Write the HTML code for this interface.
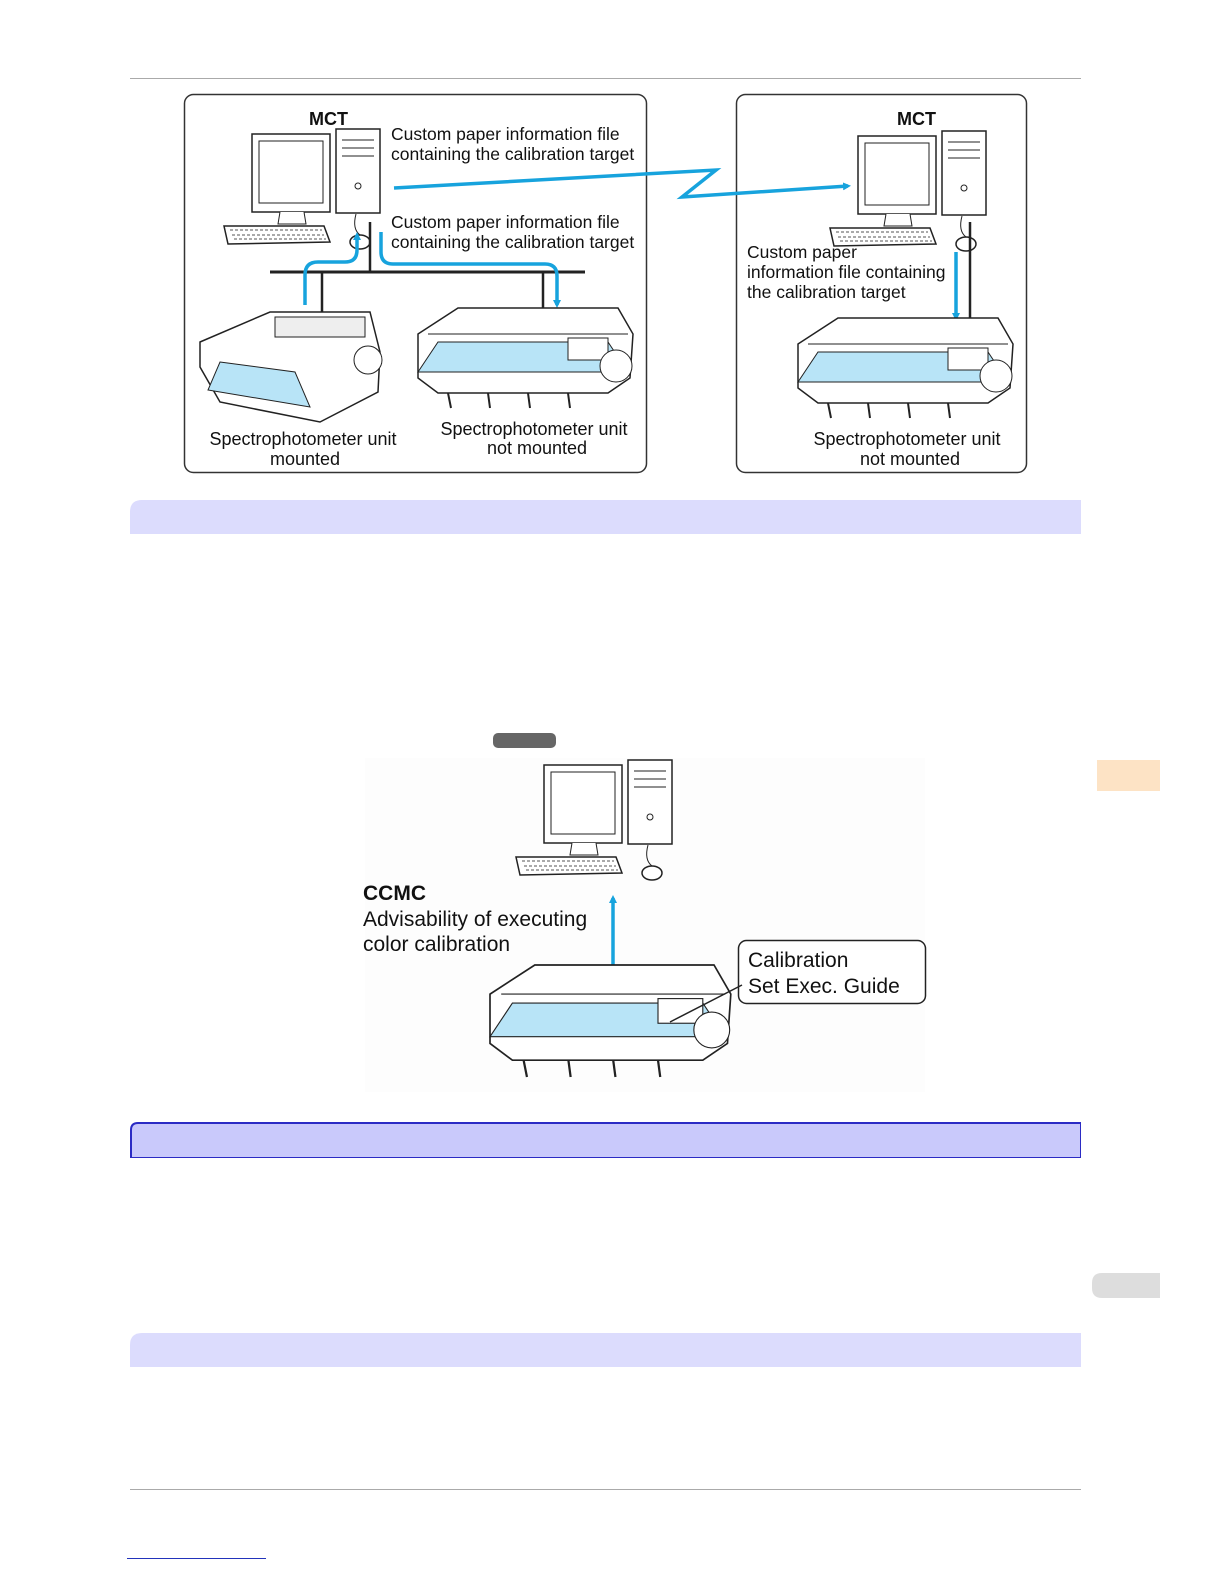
<!DOCTYPE html>
<html><head><meta charset="utf-8"><style>
html,body{margin:0;padding:0;background:#fff;overflow:hidden;width:1224px;height:1584px}
svg{display:block}
text{font-family:"Liberation Sans",sans-serif;fill:#111}
</style></head><body>
<svg width="1224" height="1584" viewBox="0 0 1224 1584" xmlns="http://www.w3.org/2000/svg">
<defs>
<marker id="ah" markerWidth="8" markerHeight="8" refX="5" refY="4" orient="auto" markerUnits="userSpaceOnUse"><path d="M0,0 L8,4 L0,8 z" fill="#17a3dd"/></marker>
<g id="pc">
 <rect x="0" y="0" width="78" height="78" fill="#fff" stroke="#222" stroke-width="1.5"/>
 <rect x="7" y="7" width="64" height="62" fill="#fff" stroke="#222"/>
 <path d="M28,78 L26,90 L54,90 L52,78" fill="#fff" stroke="#222"/>
 <rect x="84" y="-5" width="44" height="84" fill="#fff" stroke="#222" stroke-width="1.5"/>
 <line x1="90" y1="6" x2="122" y2="6" stroke="#222"/><line x1="90" y1="14" x2="122" y2="14" stroke="#222"/><line x1="90" y1="22" x2="122" y2="22" stroke="#222"/>
 <circle cx="106" cy="52" r="3" fill="none" stroke="#222"/>
 <path d="M-28,92 L72,92 L78,108 L-24,110 z" fill="#fff" stroke="#222" stroke-width="1.5"/>
 <path d="M-22,96 L70,96 M-20,101 L72,101 M-18,105 L74,105" stroke="#555" stroke-dasharray="3,2"/>
 <ellipse cx="108" cy="108" rx="10" ry="7" fill="#fff" stroke="#222" stroke-width="1.5"/>
 <path d="M104,80 Q100,95 108,101" fill="none" stroke="#222"/>
</g>
<g id="prA">
 <path d="M0,26 L40,0 L200,0 L215,26 L212,70 L190,85 L20,85 L0,70 z" fill="#fff" stroke="#222" stroke-width="1.5"/>
 <path d="M10,26 L210,26" stroke="#222"/>
 <path d="M20,34 L190,34 L210,64 L0,64 z" fill="#b8e4f7" stroke="#222"/>
 <rect x="150" y="30" width="40" height="22" fill="#fff" stroke="#222"/>
 <circle cx="198" cy="58" r="16" fill="#fff" stroke="#222"/>
 <path d="M30,85 L33,100 M70,85 L72,100 M110,85 L112,100 M150,85 L152,100" stroke="#222" stroke-width="2"/>
</g>
</defs>

<line x1="130" y1="78.5" x2="1081" y2="78.5" stroke="#aaa"/>

<!-- left box -->
<rect x="184.5" y="94.5" width="462" height="378" rx="9" fill="#fff" stroke="#333" stroke-width="1.5"/>
<text x="309" y="125" font-size="18" font-weight="bold">MCT</text>
<text x="391" y="140" font-size="17.5">Custom paper information file</text>
<text x="391" y="160" font-size="17.5">containing the calibration target</text>
<text x="391" y="228" font-size="17.5">Custom paper information file</text>
<text x="391" y="248" font-size="17.5">containing the calibration target</text>
<use href="#pc" x="252" y="134"/>
<line x1="270" y1="272" x2="585" y2="272" stroke="#222" stroke-width="3"/>
<line x1="370" y1="222" x2="370" y2="272" stroke="#222" stroke-width="2.5"/>
<line x1="322" y1="272" x2="322" y2="318" stroke="#222" stroke-width="2.5"/>
<line x1="543" y1="272" x2="543" y2="330" stroke="#222" stroke-width="2.5"/>
<path d="M305,305 L305,275 Q305,262 318,262 L345,262 Q357,262 357,250 L357,235" fill="none" stroke="#17a3dd" stroke-width="3.5" marker-end="url(#ah)"/>
<path d="M381,232 L381,252 Q381,264 393,264 L545,264 Q557,264 557,276 L557,305" fill="none" stroke="#17a3dd" stroke-width="3.5" marker-end="url(#ah)"/>
<g transform="translate(200,312)">
 <path d="M0,30 L70,0 L170,0 L180,40 L178,80 L120,110 L20,90 L0,55 z" fill="#fff" stroke="#222" stroke-width="1.5"/>
 <path d="M75,5 L165,5 L165,25 L75,25 z" fill="#eee" stroke="#222"/>
 <path d="M20,50 L95,60 L110,95 L8,78 z" fill="#b8e4f7" stroke="#222"/>
 <circle cx="168" cy="48" r="14" fill="#fff" stroke="#222"/>
</g>
<g transform="translate(418,308)"><use href="#prA"/></g>
<text x="303" y="445" font-size="18" text-anchor="middle">Spectrophotometer unit</text>
<text x="305" y="465" font-size="18" text-anchor="middle">mounted</text>
<text x="534" y="435" font-size="18" text-anchor="middle">Spectrophotometer unit</text>
<text x="537" y="454" font-size="18" text-anchor="middle">not mounted</text>

<!-- right box -->
<rect x="736.5" y="94.5" width="290" height="378" rx="9" fill="#fff" stroke="#333" stroke-width="1.5"/>
<text x="897" y="125" font-size="18" font-weight="bold">MCT</text>
<use href="#pc" x="858" y="136"/>
<line x1="970" y1="222" x2="970" y2="325" stroke="#222" stroke-width="2.5"/>
<path d="M956,252 L956,318" stroke="#17a3dd" stroke-width="3.5" marker-end="url(#ah)"/>
<text x="747" y="258" font-size="17.5">Custom paper</text>
<text x="747" y="278" font-size="17.5">information file containing</text>
<text x="747" y="298" font-size="17.5">the calibration target</text>
<g transform="translate(798,318)"><use href="#prA"/></g>
<text x="907" y="445" font-size="18" text-anchor="middle">Spectrophotometer unit</text>
<text x="910" y="465" font-size="18" text-anchor="middle">not mounted</text>

<!-- zigzag line -->
<path d="M394,188 L716,170 L682,197 L848,186" fill="none" stroke="#17a3dd" stroke-width="3.5" marker-end="url(#ah)"/>

<!-- band 1 -->
<path d="M130,512 Q130,500 142,500 L1081,500 L1081,534 L130,534 z" fill="#dcdcfd"/>

<!-- diagram 2 -->
<rect x="493" y="733" width="63" height="15" rx="5" fill="#666"/>
<rect x="365" y="758" width="560" height="334" fill="#fdfdfd"/>
<use href="#pc" x="544" y="765"/>
<path d="M613,965 L613,898" stroke="#17a3dd" stroke-width="3.5" marker-end="url(#ah)"/>
<text x="363" y="900" font-size="21" font-weight="bold">CCMC</text>
<text x="363" y="926" font-size="21">Advisability of executing</text>
<text x="363" y="951" font-size="21">color calibration</text>
<g transform="translate(490,965) scale(1.12)"><use href="#prA"/></g>
<rect x="738.5" y="940.5" width="187" height="63" rx="8" fill="#fff" stroke="#222" stroke-width="1.5"/>
<path d="M742,985 L670,1022" stroke="#222" stroke-width="1.5"/>
<text x="748" y="967" font-size="21">Calibration</text>
<text x="748" y="993" font-size="21">Set Exec. Guide</text>

<rect x="1097" y="760" width="63" height="31" fill="#fde3c5"/>

<!-- band 2 -->
<path d="M131,1158 L131,1130 Q131,1123 138,1123 L1081,1123 L1081,1158 z" fill="#c9c9fb" stroke="#2b2bc4" stroke-width="2"/>
<rect x="1081" y="1118" width="4" height="44" fill="#fff"/>
<rect x="125" y="1158" width="960" height="4" fill="#fff"/>

<path d="M1102,1273 L1160,1273 L1160,1298 L1102,1298 Q1092,1298 1092,1288 L1092,1283 Q1092,1273 1102,1273 z" fill="#dddddd"/>

<!-- band 3 -->
<path d="M130,1345 Q130,1333 142,1333 L1081,1333 L1081,1367 L130,1367 z" fill="#dcdcfd"/>

<line x1="130" y1="1489.5" x2="1081" y2="1489.5" stroke="#aaa"/>
<line x1="127" y1="1558.5" x2="266" y2="1558.5" stroke="#2233bb"/>
</svg>
</body></html>
